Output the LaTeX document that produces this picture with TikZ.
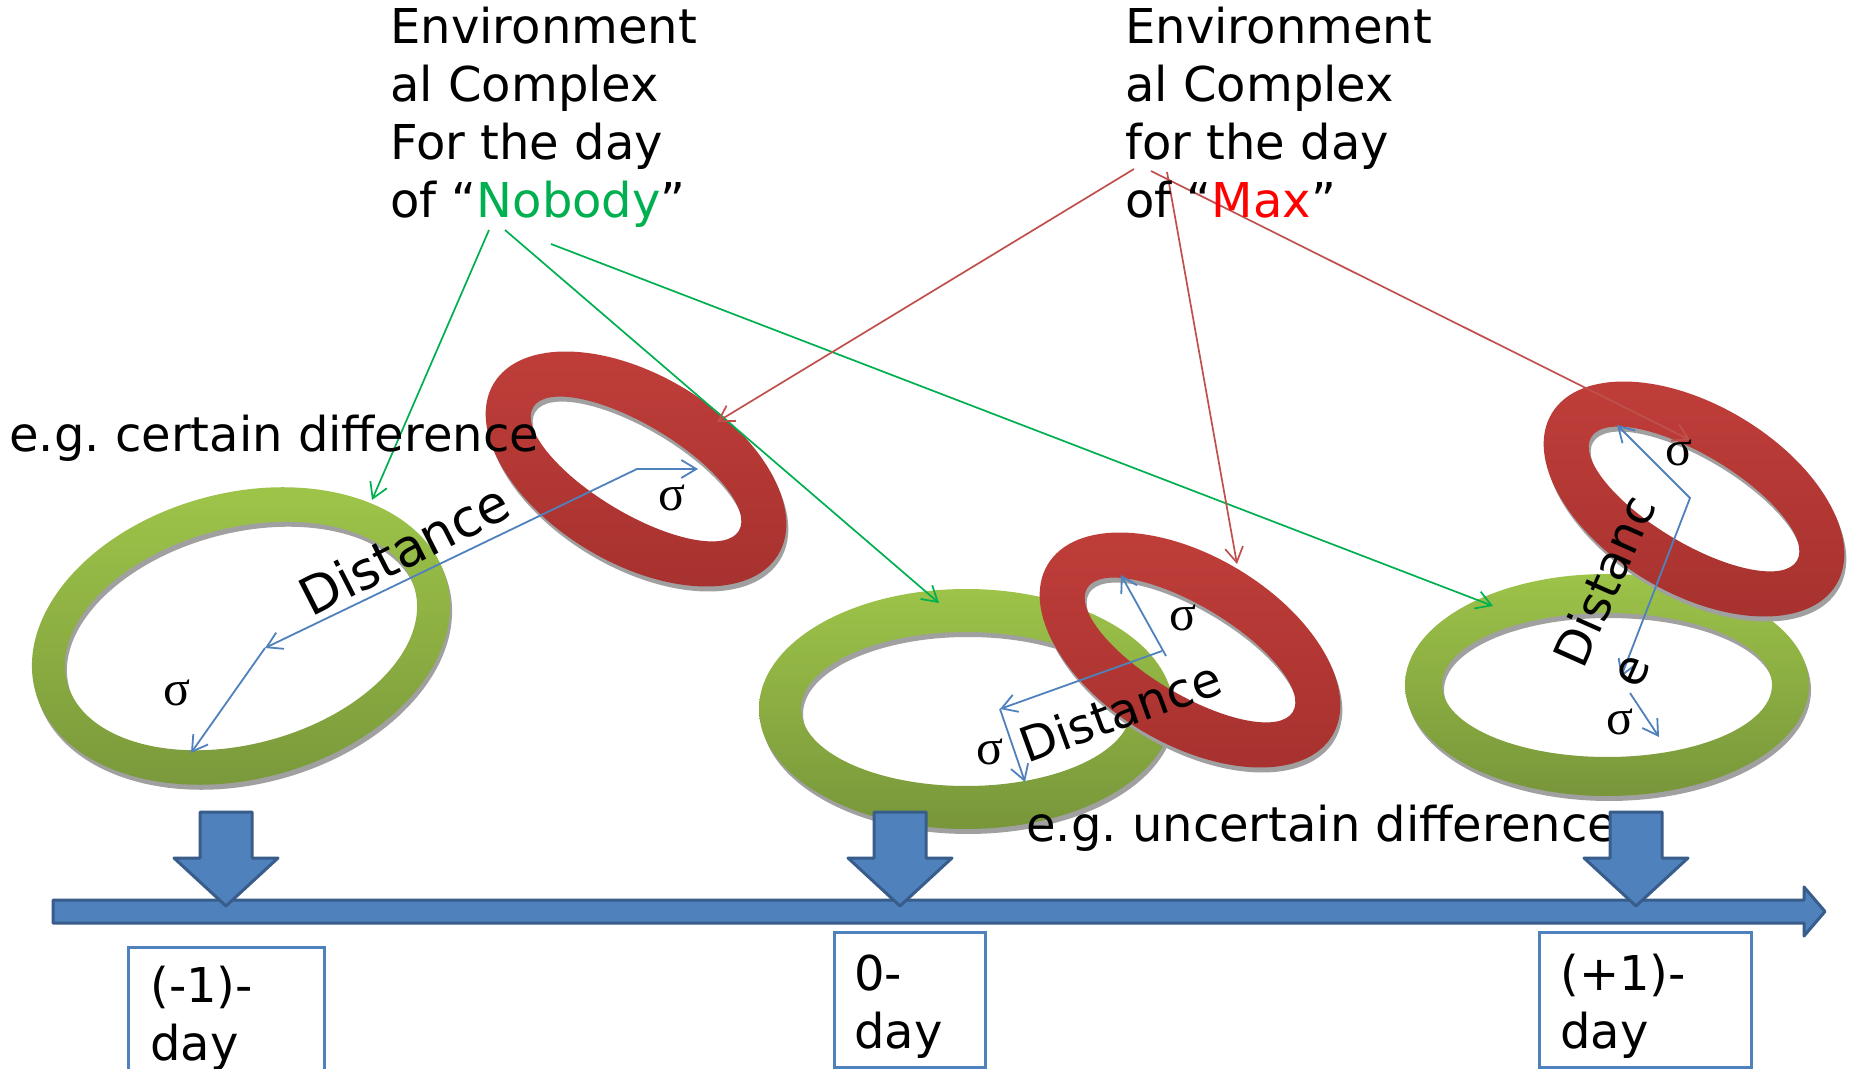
\documentclass[tikz,border=0pt]{standalone}
\usepackage{fontspec}
\setmainfont{DejaVu Sans}
\newfontfamily\sigfont{Liberation Serif}
\usetikzlibrary{arrows.meta}
\frenchspacing
\definecolor{ringgreenA}{RGB}{157,195,73}
\definecolor{ringgreenB}{RGB}{120,150,58}
\definecolor{ringredA}{RGB}{192,62,58}
\definecolor{ringredB}{RGB}{166,49,46}
\definecolor{shadowgray}{RGB}{160,160,160}
\definecolor{dimblue}{RGB}{79,129,189}
\definecolor{blockblue}{RGB}{79,129,189}
\definecolor{blockedge}{RGB}{56,93,138}
\definecolor{nbgreen}{RGB}{0,176,80}
\definecolor{lnred}{RGB}{192,80,77}
\definecolor{maxred}{RGB}{255,0,0}
\tikzset{
  lbl/.style={font=\fontsize{24}{29}\selectfont, inner sep=0pt},
  sig/.style={font=\sigfont\fontsize{25}{29}\selectfont, inner sep=0pt},
  dimline/.style={draw=dimblue, line width=0.9pt},
  greenline/.style={draw=nbgreen, line width=0.85pt, ->},
  redline/.style={draw=lnred, line width=0.85pt, ->},
  greenring/.style={top color=ringgreenA, bottom color=ringgreenB},
  redring/.style={top color=ringredA, bottom color=ringredB},
  blockarrow/.style={fill=blockblue, draw=blockedge, line width=1.5pt, line join=round},
  daybox/.style={draw=dimblue, fill=white, line width=1.5pt},
  pics/dayarrow/.style={code={\path[blockarrow] (-26,0) -- (26,0) -- (26,46) -- (52,46) -- (0,94) -- (-52,46) -- (-26,46) -- cycle;}}
}
\newcommand\myring[8]{%
  \begin{scope}[shift={(#1+2,#2+5)},rotate=#3]
    \fill[shadowgray,even odd rule] (0,0) ellipse [x radius=#4,y radius=#5] (0,0) ellipse [x radius=#6,y radius=#7];
  \end{scope}
  \begin{scope}[shift={(#1,#2)},rotate=#3]
    \shade[#8,even odd rule] (0,0) ellipse [x radius=#4,y radius=#5] (0,0) ellipse [x radius=#6,y radius=#7];
  \end{scope}}
\begin{document}
\begin{tikzpicture}[x=0.5pt,y=-0.5pt,>={Straight Barb[length=7.5pt,width=9pt]}]
\useasboundingbox (0,0) rectangle (1849,1069);
\clip (0,0) rectangle (1849,1069);
\fill[white] (0,0) rectangle (1849,1069);

% rings
\myring{241}{636}{15}{213}{143}{180}{108}{greenring}
\myring{636}{469}{-31}{166}{94}{120}{44}{redring}
\myring{966}{709}{0}{207}{120}{165}{77}{greenring}
\myring{1190}{650}{-31}{166}{94}{120}{44}{redring}
\myring{1607}{685}{0}{202}{111}{165}{72}{greenring}
\myring{1694}{499}{-31}{166}{94}{120}{44}{redring}

% coordinates
\coordinate (g1s) at (489,230); \coordinate (g1e) at (372,500);
\coordinate (g2s) at (505,230); \coordinate (g2e) at (939,603);
\coordinate (g3s) at (551,244); \coordinate (g3e) at (1493,606);
\coordinate (r1s) at (1134,169); \coordinate (r1e) at (717,422);
\coordinate (r2s) at (1167,172); \coordinate (r2e) at (1237,564);
\coordinate (r3s) at (1151,171); \coordinate (r3e) at (1690,440);

\coordinate (L1a) at (698,469); \coordinate (L1c) at (637,469);
\coordinate (L1b) at (265,648); \coordinate (L1s) at (191,753);
\coordinate (M1c) at (1162,651); \coordinate (M1a) at (1000,709);
\coordinate (M1k) at (1166,656); \coordinate (M1t) at (1121,575);
\coordinate (M1s) at (1025,782);
\coordinate (R1t) at (1617,425); \coordinate (R1c) at (1690,498);
\coordinate (R1b) at (1621,677); \coordinate (R1k) at (1630,693);
\coordinate (R1s) at (1659,737);

% green and red pointers
\draw[greenline] (g1s) -- (g1e);
\draw[greenline] (g2s) -- (g2e);
\draw[greenline] (g3s) -- (g3e);
\draw[redline] (r1s) -- (r1e);
\draw[redline] (r2s) -- (r2e);
\draw[redline] (r3s) -- (r3e);

% blue dimension lines
\draw[dimline,<->] (L1a) -- (L1c) -- (L1b);
\draw[dimline,->] (L1b) -- (L1s);
\draw[dimline,->] (M1c) -- (M1a);
\draw[dimline,->] (M1k) -- (M1t);
\draw[dimline,->] (M1a) -- (M1s);
\draw[dimline,<->] (R1t) -- (R1c) -- (R1b);
\draw[dimline,->] (R1k) -- (R1s);

% texts
\node[lbl, anchor=base west, align=left] (nobody) at (390,218) {Environment\\al Complex\\For the day\\of “\textcolor{nbgreen}{Nobody}”};
\node[lbl, anchor=base west, align=left] (max) at (1125,218) {Environment\\al Complex\\for the day\\of “\textcolor{maxred}{Max}”};
\node[lbl, anchor=base west] (cert) at (9,452) {e.g. certain difference};
\node[lbl, anchor=base west] (uncert) at (1026,841) {e.g. uncertain difference};
\node[lbl, font=\fontsize{26}{30}\selectfont, rotate=27] (dist1) at (404,549) {Distance};
\node[lbl, rotate=20] (dist2) at (1120,711) {Distance};
\node[lbl, rotate=66] (dist3a) at (1604,581) {Distanc};
\node[lbl, rotate=66] (dist3b) at (1634,672) {e};
\node[sig] (s1) at (177,693) {σ};
\node[sig] (s2) at (672,498) {σ};
\node[sig] (s3) at (1183,618) {σ};
\node[sig] (s4) at (990,752) {σ};
\node[sig] (s5) at (1679,453) {σ};
\node[sig] (s6) at (1620,722) {σ};

% timeline
\path[blockarrow] (53,900) -- (1804,900) -- (1804,887) -- (1825,911.5) -- (1804,936) -- (1804,923) -- (53,923) -- cycle;
\pic at (226,812) {dayarrow};
\pic at (900,812) {dayarrow};
\pic at (1636,812) {dayarrow};

% day boxes
\draw[daybox] (128,947) rectangle (324,1100);
\draw[daybox] (834,932) rectangle (985,1067);
\draw[daybox] (1539,932) rectangle (1751,1067);
\node[lbl, anchor=base west, align=left] (d1) at (150,1060) {(-1)-\\day};
\node[lbl, anchor=base west, align=left] (d2) at (854,1048) {0-\\day};
\node[lbl, anchor=base west, align=left] (d3) at (1560,1048) {(+1)-\\day};
\end{tikzpicture}
\end{document}
